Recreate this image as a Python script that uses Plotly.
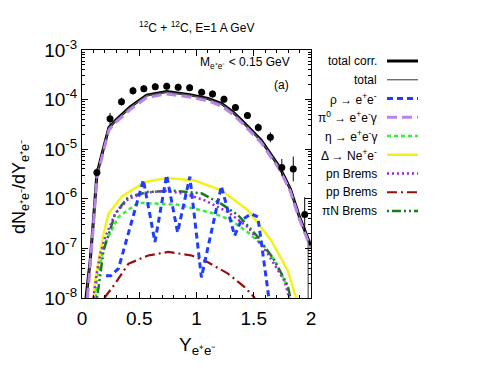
import plotly.graph_objects as go

# ---------------- data ----------------
data_x = [0.13, 0.245, 0.345, 0.445, 0.54, 0.64, 0.74, 0.84, 0.94, 1.045, 1.14, 1.24,
          1.34, 1.445, 1.54, 1.645, 1.745, 1.845, 1.945]
data_y = [3.4e-6, 4.1e-5, 9.1e-5, 1.51e-4, 1.66e-4, 1.82e-4, 1.86e-4, 1.78e-4, 1.74e-4,
          1.41e-4, 1.29e-4, 1.02e-4, 6.9e-5, 4.8e-5, 2.75e-5, 1.74e-5, 4.3e-6, 4.0e-6, 4.8e-7]
data_err_dex = [0.08, 0.12, 0.08, 0.08, 0.07, 0.07, 0.07, 0.07, 0.07, 0.07, 0.07, 0.07,
                0.07, 0.07, 0.08, 0.1, 0.17, 0.25, 0.35]

tot_x = [0.035, 0.072, 0.10, 0.13, 0.18, 0.235, 0.30, 0.42, 0.565, 0.74, 0.94, 1.10,
         1.22, 1.32, 1.39, 1.565, 1.725, 1.82, 1.90, 2.0]
totcorr_y = [1.0e-8, 5.75e-8, 3.72e-7, 3.16e-6, 8.9e-6, 2.75e-5, 3.98e-5, 7.08e-5, 1.23e-4,
             1.45e-4, 1.26e-4, 1.05e-4, 8.3e-5, 5.6e-5, 3.9e-5, 1.51e-5, 4.37e-6, 1.58e-6,
             4.27e-7, 1.1e-7]
total_x = [0.036, 0.072, 0.10, 0.13, 0.18, 0.235, 0.30, 0.42, 0.565, 0.74, 0.94, 1.10,
           1.22, 1.32, 1.39, 1.565, 1.725, 1.82, 1.90, 1.975, 1.976]
total_y = [1.0e-8, 5.6e-8, 3.6e-7, 3.1e-6, 8.7e-6, 2.7e-5, 3.9e-5, 6.9e-5, 1.2e-4,
           1.42e-4, 1.23e-4, 1.03e-4, 8.1e-5, 5.5e-5, 3.8e-5, 1.48e-5, 4.3e-6, 1.55e-6,
           4.2e-7, 1.5e-7, 1.0e-9]

pi0_x = [0.048, 0.075, 0.10, 0.13, 0.18, 0.235, 0.30, 0.42, 0.565, 0.74, 0.94, 1.10,
         1.22, 1.32, 1.39, 1.565, 1.725, 1.82, 1.90, 2.0]
pi0_y = [1.0e-8, 4.8e-8, 3.0e-7, 2.7e-6, 7.9e-6, 2.45e-5, 3.55e-5, 6.3e-5, 1.1e-4, 1.3e-4,
         1.13e-4, 9.4e-5, 7.4e-5, 5.0e-5, 3.5e-5, 1.35e-5, 3.9e-6, 1.4e-6, 3.8e-7, 1.0e-7]

rho_x = [0.21, 0.25, 0.318, 0.536, 0.637, 0.739, 0.835, 0.942, 1.043, 1.217, 1.333, 1.391,
         1.478, 1.536, 1.635]
rho_y = [2.8e-8, 2.8e-8, 3.9e-8, 2.4e-6, 1.35e-7, 3.0e-6, 2.1e-7, 2.8e-6, 2.6e-8, 1.8e-6,
         1.8e-7, 3.7e-7, 5.0e-7, 4.3e-7, 8.9e-9]

eta_x = [0.12, 0.13, 0.2, 0.318, 0.492, 0.696, 0.84, 0.985, 1.16, 1.304, 1.449, 1.594,
         1.68, 1.797, 1.81]
eta_y = [1.0e-8, 2.6e-8, 1.26e-7, 4.3e-7, 8.3e-7, 7.9e-7, 7.6e-7, 6.3e-7, 5.0e-7, 3.7e-7,
         2.1e-7, 1.07e-7, 5.75e-8, 1.66e-8, 1.0e-8]

delta_x = [0.10, 0.116, 0.19, 0.231, 0.348, 0.55, 0.74, 0.985, 1.217, 1.449, 1.652, 1.797, 1.87]
delta_y = [1.0e-8, 2.45e-8, 2.0e-7, 5.0e-7, 1.12e-6, 2.19e-6, 2.63e-6, 2.34e-6, 1.48e-6,
           5.9e-7, 1.45e-7, 3.6e-8, 1.0e-8]

pn_x = [0.10, 0.13, 0.16, 0.203, 0.29, 0.405, 0.55, 0.725, 0.9, 1.072, 1.275, 1.449,
        1.623, 1.768, 1.81]
pn_y = [1.0e-8, 3.2e-8, 7.9e-8, 1.7e-7, 5.0e-7, 1.0e-6, 1.32e-6, 1.45e-6, 1.26e-6, 9.3e-7,
        5.4e-7, 2.7e-7, 7.8e-8, 2.2e-8, 1.0e-8]

pp_x = [0.195, 0.29, 0.405, 0.579, 0.753, 0.957, 1.1, 1.275, 1.42, 1.51]
pp_y = [1.0e-8, 1.95e-8, 4.9e-8, 7.2e-8, 8.5e-8, 7.2e-8, 5.25e-8, 3.1e-8, 1.66e-8, 1.0e-8]

piN_x = [0.13, 0.145, 0.188, 0.29, 0.405, 0.579, 0.811, 1.043, 1.217, 1.362, 1.536, 1.68,
         1.797, 1.82]
piN_y = [1.0e-8, 1.66e-8, 9.1e-8, 5.0e-7, 1.1e-6, 1.38e-6, 1.45e-6, 1.29e-6, 7.9e-7, 4.7e-7,
         1.7e-7, 5.75e-8, 1.78e-8, 1.0e-8]

y_tick_vals = [1e-8, 1e-7, 1e-6, 1e-5, 1e-4, 1e-3]
y_tick_text = ["10<sup>-8</sup>", "10<sup>-7</sup>", "10<sup>-6</sup>", "10<sup>-5</sup>",
               "10<sup>-4</sup>", "10<sup>-3</sup>"]
x_tick_vals = [0, 0.5, 1, 1.5, 2]
x_tick_text = ["0", "0.5", "1", "1.5", "2"]

legend_labels = ["total corr.", "total", "ρ → e<sup>+</sup>e<sup>-</sup>",
                 "π<sup>0</sup> → e<sup>+</sup>e<sup>-</sup>γ",
                 "η → e<sup>+</sup>e<sup>-</sup>γ", "Δ → Ne<sup>+</sup>e<sup>-</sup>",
                 "pn Brems", "pp Brems", "πN Brems"]

# ---------------- styles ----------------
FONT = "Liberation Sans, Arial, Helvetica, sans-serif"
styles = {
    "totcorr": dict(color="black", width=3, dash="solid"),
    "total": dict(color="#555555", width=1.2, dash="solid"),
    "rho": dict(color="#1f3dff", width=3, dash="6px,4px"),
    "pi0": dict(color="#b884ec", width=3, dash="10px,5px"),
    "eta": dict(color="#33f033", width=2.5, dash="4px,3px"),
    "delta": dict(color="#f2f21a", width=2.5, dash="solid"),
    "pn": dict(color="#a020f0", width=2.5, dash="2px,3px"),
    "pp": dict(color="#9a0d0d", width=2.2, dash="10px,4px,2px,4px"),
    "piN": dict(color="#1a7a1a", width=2.5, dash="2px,3px,9px,3px,2px,3px"),
}

fig = go.Figure()

def add_line(x, y, key, name):
    fig.add_trace(go.Scatter(x=x, y=y, mode="lines", name=name, showlegend=False,
                             line=styles[key]))

add_line(pp_x, pp_y, "pp", "pp Brems")
add_line(eta_x, eta_y, "eta", "eta")
add_line(delta_x, delta_y, "delta", "Delta")
add_line(piN_x, piN_y, "piN", "piN Brems")
add_line(pn_x, pn_y, "pn", "pn Brems")
add_line(rho_x, rho_y, "rho", "rho")
add_line(tot_x, totcorr_y, "totcorr", "total corr.")
add_line(total_x, total_y, "total", "total")
add_line(pi0_x, pi0_y, "pi0", "pi0")

err_plus = [v * (10 ** d - 1) for v, d in zip(data_y, data_err_dex)]
err_minus = [v * (1 - 10 ** (-d)) for v, d in zip(data_y, data_err_dex)]
fig.add_trace(go.Scatter(x=data_x, y=data_y, mode="markers", showlegend=False,
                         marker=dict(color="black", size=7),
                         error_y=dict(type="data", array=err_plus, arrayminus=err_minus,
                                      color="black", thickness=1, width=0)))

# ---------------- layout ----------------
# page body adds an ~8px offset, so the margins are compensated
OFF = 8
W, H = 480, 378
PL, PR, PT, PB = 82, 311, 50, 298          # target plot frame in screen pixels
L, T = PL - OFF, PT - OFF
pw, ph = PR - PL, PB - PT
R, B = W - L - pw, H - T - ph

def px2paper(px, py):
    return (px - PL) / pw, (PB - py) / ph

minor_y = [m * 10.0 ** e for e in range(-8, -3) for m in range(2, 10)]

fig.update_layout(
    width=W, height=H, margin=dict(l=L, r=R, t=T, b=B, autoexpand=False),
    paper_bgcolor="white", plot_bgcolor="white",
    font=dict(family=FONT, color="black", size=12),
    xaxis=dict(range=[0, 2], tickmode="array", tickvals=x_tick_vals, ticktext=x_tick_text,
               ticks="inside", ticklen=6, tickwidth=1, tickcolor="black",
               showline=True, linecolor="black", linewidth=1, mirror="ticks",
               showgrid=False, zeroline=False, tickfont=dict(size=19),
               ticklabelstandoff=3,
               minor=dict(tickmode="linear", tick0=0, dtick=0.1, ticks="inside",
                          ticklen=3, tickcolor="black", showgrid=False)),
    yaxis=dict(type="log", range=[-8, -3], tickmode="array", tickvals=y_tick_vals,
               ticktext=y_tick_text, ticks="inside", ticklen=6, tickwidth=1,
               tickcolor="black", showline=True, linecolor="black", linewidth=1,
               mirror="ticks", showgrid=False, zeroline=False, tickfont=dict(size=19),
               minor=dict(tickmode="array", tickvals=minor_y, ticks="inside", ticklen=3,
                          tickcolor="black", showgrid=False)),
)

ann = []
tx, ty = px2paper(196, 27)
ann.append(dict(x=tx, y=ty, xref="paper", yref="paper", showarrow=False,
                text="<sup>12</sup>C + <sup>12</sup>C, E=1 A GeV", font=dict(size=12),
                xanchor="center", yanchor="middle"))
mx, my = px2paper(292, 63)
ann.append(dict(x=mx, y=my, xref="paper", yref="paper", showarrow=False,
                text="M<sub>e⁺e⁻</sub> &lt; 0.15 GeV", font=dict(size=12),
                xanchor="right", yanchor="middle"))
ax_, ay_ = px2paper(291, 85)
ann.append(dict(x=ax_, y=ay_, xref="paper", yref="paper", showarrow=False,
                text="(a)", font=dict(size=12), xanchor="right", yanchor="middle"))
xx, xy = px2paper(197, 346)
ann.append(dict(x=xx, y=xy, xref="paper", yref="paper", showarrow=False,
                text="Y<sub>e⁺e⁻</sub>", font=dict(size=19),
                xanchor="center", yanchor="middle"))
yx, yy = px2paper(20, 187)
ann.append(dict(x=yx, y=yy, xref="paper", yref="paper", showarrow=False, textangle=-90,
                text="dN<sub>e⁺e⁻</sub>/dY<sub>e⁺e⁻</sub>", font=dict(size=18),
                xanchor="center", yanchor="middle"))

legend_keys = ["totcorr", "total", "rho", "pi0", "eta", "delta", "pn", "pp", "piN"]
shapes = []
row_y0, row_dy = 61, 18.75
for i, (lab, key) in enumerate(zip(legend_labels, legend_keys)):
    py = row_y0 + i * row_dy
    lx, ly = px2paper(379, py)
    ann.append(dict(x=lx, y=ly, xref="paper", yref="paper", showarrow=False, text=lab,
                    font=dict(size=12), xanchor="right", yanchor="middle"))
    x0, _ = px2paper(387, py)
    x1, _ = px2paper(418, py)
    shapes.append(dict(type="line", xref="paper", yref="paper", x0=x0, x1=x1, y0=ly, y1=ly,
                       line=styles[key]))

fig.update_layout(annotations=ann, shapes=shapes)
fig.write_html("out.html")
